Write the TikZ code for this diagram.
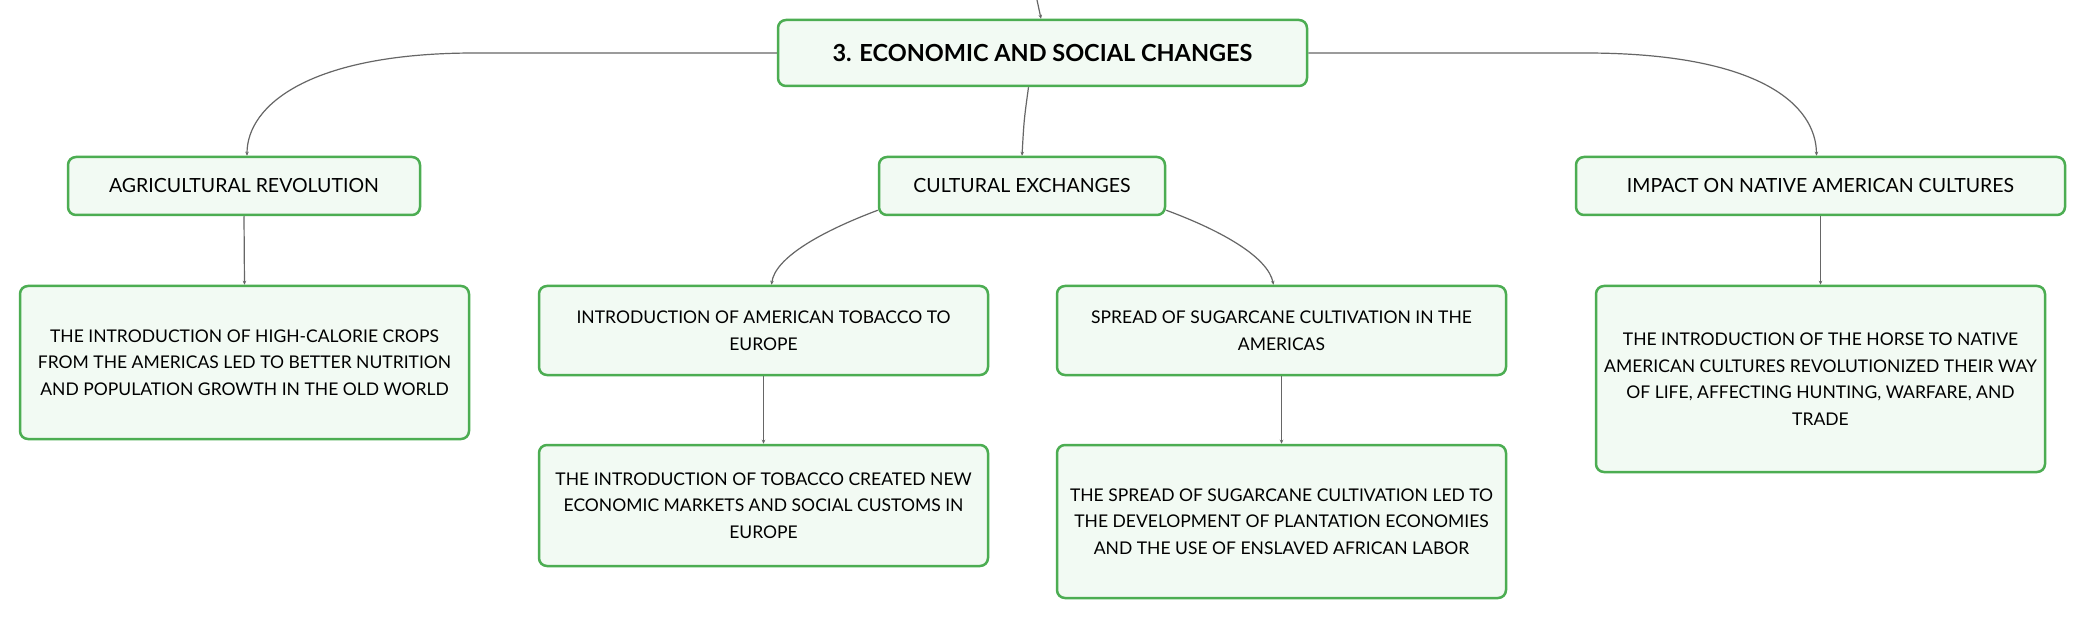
\documentclass[tikz,border=0pt]{standalone}
\usepackage{fontspec}
\setmainfont{Lato}
\usetikzlibrary{arrows.meta}
\definecolor{bord}{HTML}{4CAD52}
\definecolor{fillg}{HTML}{F2FAF3}
\definecolor{connc}{HTML}{666666}
\begin{document}
\begin{tikzpicture}[x=1pt,y=-1pt,
  box/.style={draw=bord, line width=2.5pt, fill=fillg, rounded corners=8pt, align=center, inner sep=0pt, font=\fontsize{17.5}{26.5}\selectfont},
  lvl/.style={box, font=\fontsize{19.5}{26.5}\selectfont},
  conn/.style={draw=connc, line width=1.2pt, -{Stealth[length=4pt,width=3.5pt]}}]
\useasboundingbox (0,0) rectangle (2085,620);
\fill[white] (0,0) rectangle (2085,620);

\node[box, minimum width=529pt, minimum height=66pt, font=\bfseries\fontsize{23.5}{28}\selectfont] (root) at (1042.5,53) {3. ECONOMIC AND SOCIAL CHANGES};
\node[lvl, minimum width=352pt, minimum height=58pt] (agri) at (244,186) {AGRICULTURAL REVOLUTION};
\node[lvl, minimum width=286pt, minimum height=58pt] (cult) at (1022,186) {CULTURAL EXCHANGES};
\node[lvl, minimum width=489pt, minimum height=58pt] (impact) at (1820.5,186) {IMPACT ON NATIVE AMERICAN CULTURES};

\node[box, minimum width=449pt, minimum height=153pt] (agrich) at (244.5,362.5) {THE INTRODUCTION OF HIGH-CALORIE CROPS\\FROM THE AMERICAS LED TO BETTER NUTRITION\\AND POPULATION GROWTH IN THE OLD WORLD};
\node[box, minimum width=449pt, minimum height=89pt] (tob) at (763.5,330.5) {INTRODUCTION OF AMERICAN TOBACCO TO\\EUROPE};
\node[box, minimum width=449pt, minimum height=121pt] (tobch) at (763.5,505.5) {THE INTRODUCTION OF TOBACCO CREATED NEW\\ECONOMIC MARKETS AND SOCIAL CUSTOMS IN\\EUROPE};
\node[box, minimum width=449pt, minimum height=89pt] (sug) at (1281.5,330.5) {SPREAD OF SUGARCANE CULTIVATION IN THE\\AMERICAS};
\node[box, minimum width=449pt, minimum height=153pt] (sugch) at (1281.5,521.5) {THE SPREAD OF SUGARCANE CULTIVATION LED TO\\THE DEVELOPMENT OF PLANTATION ECONOMIES\\AND THE USE OF ENSLAVED AFRICAN LABOR};
\node[box, minimum width=449pt, minimum height=186pt] (horse) at (1820.5,379) {THE INTRODUCTION OF THE HORSE TO NATIVE\\AMERICAN CULTURES REVOLUTIONIZED THEIR WAY\\OF LIFE, AFFECTING HUNTING, WARFARE, AND\\TRADE};

\coordinate (top) at (1037,0);
\coordinate (lbend) at (475,53);
\coordinate (rbend) at (1585,53);

\draw[conn] (top) .. controls (1039,9) .. ([xshift=-1.5pt]root.north);
\draw[conn] ([xshift=-14pt]root.south) .. controls (1024,120) .. (cult.north);
\draw[conn] (root.west) -- (lbend) .. controls (310,53) and (247,105) .. ([xshift=3pt]agri.north);
\draw[conn] (root.east) -- (rbend) .. controls (1760,53) and (1816,105) .. ([xshift=-4pt]impact.north);
\draw[conn] ([yshift=6pt]cult.south west) .. controls (820,232) and (775,258) .. ([xshift=8pt]tob.north);
\draw[conn] ([yshift=6pt]cult.south east) .. controls (1225,232) and (1268,258) .. ([xshift=-8pt]sug.north);
\draw[conn] (agri.south) -- (agrich.north);
\draw[conn] (tob.south) -- (tobch.north);
\draw[conn] (sug.south) -- (sugch.north);
\draw[conn] (impact.south) -- (horse.north);
\end{tikzpicture}
\end{document}
